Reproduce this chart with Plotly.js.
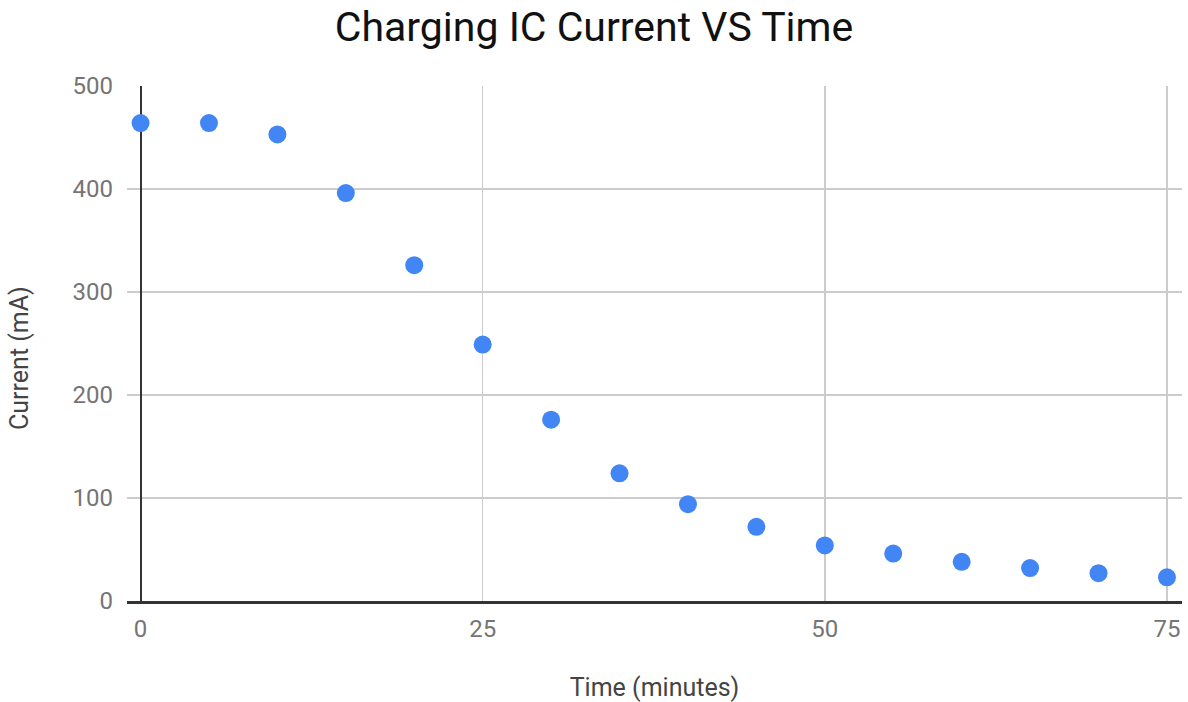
<!DOCTYPE html>
<html>
<head>
<meta charset="utf-8">
<script src="https://cdn.plot.ly/plotly-3.0.1.min.js"></script>
<style>html,body{margin:0;padding:0;background:#fff;}#chart{width:1188px;height:702px;}</style>
</head>
<body>
<div id="chart"></div>
<script>
const timeMinutes = [0, 5, 10, 15, 20, 25, 30, 35, 40, 45, 50, 55, 60, 65, 70, 75];
const currentMA = [464, 464, 453, 396, 326, 249, 176, 124, 94, 72, 54, 46, 38, 32, 27, 23];
const xTicks = [0, 25, 50, 75];
const yTicks = [0, 100, 200, 300, 400, 500];
const yTitle = 'Current (mA)';

const trace = {
  x: timeMinutes,
  y: currentMA,
  type: 'scatter',
  mode: 'markers',
  marker: {color: '#4285F4', size: 18},
  cliponaxis: false,
  hoverinfo: 'x+y'
};

const layout = {
  width: 1188,
  height: 702,
  paper_bgcolor: '#fff',
  plot_bgcolor: '#fff',
  margin: {l: 127, r: 6, t: 86, b: 101},
  showlegend: false,
  font: {family: 'Roboto, sans-serif'},
  title: {
    text: 'Charging IC Current VS Time',
    font: {family: 'Roboto, sans-serif', size: 41, color: '#111'},
    x: 0.5, xanchor: 'center', y: 0.962, yanchor: 'middle'
  },
  xaxis: {
    range: [-0.99, 76.1],
    tickvals: xTicks,
    ticktext: xTicks.map(String),
    showgrid: true,
    gridcolor: '#cccccc',
    gridwidth: 1.5,
    zeroline: true,
    zerolinecolor: '#333333',
    zerolinewidth: 2,
    showline: true,
    linecolor: '#333333',
    linewidth: 3,
    ticks: '',
    ticklabelstandoff: 4,
    tickfont: {family: 'Roboto, sans-serif', size: 24, color: '#757575'},
    title: {text: 'Time (minutes)', font: {family: 'Roboto, sans-serif', size: 25, color: '#444'}, standoff: 44}
  },
  yaxis: {
    range: [0, 500],
    tickvals: yTicks,
    ticktext: yTicks.map(String),
    showgrid: true,
    gridcolor: '#cccccc',
    gridwidth: 1.5,
    zeroline: false,
    showline: false,
    ticks: '',
    ticklabelstandoff: 13,
    tickfont: {family: 'Roboto, sans-serif', size: 24, color: '#757575'}
  },
  annotations: [{
    text: yTitle,
    xref: 'paper', yref: 'paper',
    x: -0.1014, y: 0.472,
    xanchor: 'center', yanchor: 'middle',
    textangle: -90,
    showarrow: false,
    font: {family: 'Roboto, sans-serif', size: 25, color: '#444'}
  }]
};

Plotly.newPlot('chart', [trace], layout, {displayModeBar: false, staticPlot: true});
</script>
</body>
</html>
